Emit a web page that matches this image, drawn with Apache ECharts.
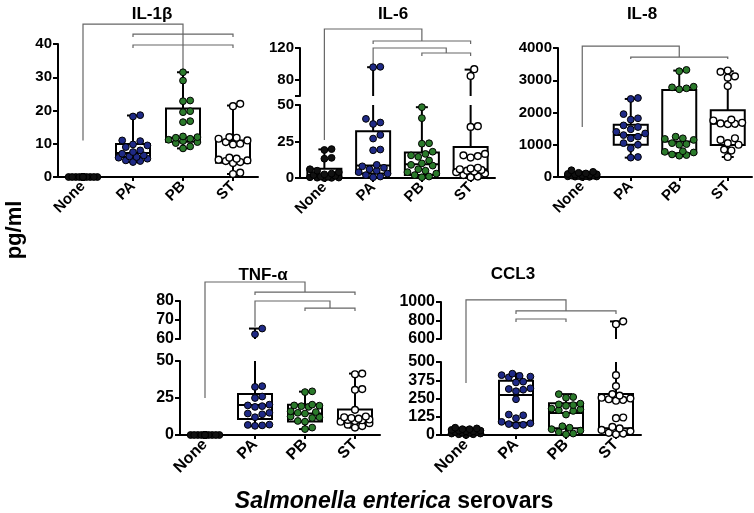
<!DOCTYPE html>
<html><head><meta charset="utf-8">
<script src="https://cdn.jsdelivr.net/npm/echarts@6/dist/echarts.min.js"></script>
<style>html,body{margin:0;padding:0;background:#fff}#c{width:754px;height:513px}</style>
</head><body><div id="c"></div>
<script>
const categories = ['None', 'PA', 'PB', 'ST'];

// ---- IL-1β ----
const il1bPoints = [
  [0,0,0,0,0,0,0,0,0,0,0,0,0,0,0,0,0,0],
  [18.6,18.2,11.0,10.8,9.8,9.5,9.0,8.0,7.5,7.0,6.5,6.2,6.0,5.8,5.5,5.0,4.8,4.5],
  [31.5,29.0,23.0,22.8,19.8,19.5,16.8,16.5,12.2,12.0,11.8,11.5,11.2,10.8,10.5,10.2,9.2,8.6],
  [22.0,21.3,12.0,11.8,11.5,11.0,10.5,10.0,9.8,5.8,5.5,5.2,5.0,4.8,4.5,4.2,1.3,0.9]
];
const il1bBox = [[0,0,0,0,0],[4.5,6.0,7.2,9.9,18.5],[8.6,10.6,11.8,20.6,31.5],[0.9,4.3,5.0,11.0,21.5]];
const il1bTicks = [0,10,20,30,40];
const il1bBrackets = [
  [[0,11,0],[0,46,0],[2,46,0],[2,32.2,0]],
  [[1,42.1,0],[1,43,0],[3,43,0],[3,42.1,0]],
  [[1,38.8,0],[1,39.7,0],[3,39.7,0],[3,38.8,0]]
];

// ---- IL-6 ----
const il6Points = [
  [19.8,19.2,13.8,13.2,6.0,5.0,4.0,3.0,2.5,2.0,1.5,1.0,0.8,0.5,0.3,0.2,0.1,0],
  [96.5,96.0,40.5,38.0,37.0,29.5,27.0,19.5,19.0,9.0,8.0,7.0,6.0,5.0,4.0,3.0,2.0,1.0,0.5],
  [48.5,41.0,23.8,23.5,18.0,16.5,15.5,14.5,12.0,10.0,9.0,8.5,6.0,5.0,4.0,3.0,2.0,1.0,0.5],
  [93.5,85.0,35.5,35.0,16.5,15.5,15.0,14.0,7.0,6.5,6.0,5.5,5.0,4.5,4.0,3.0,2.0,1.0,0.5]
];
const il6Box = [[0,0.2,1.5,6.3,19.6],[0.5,3.0,8.5,32.0,96.0],[0.5,2.0,9.5,17.5,48.5],[0.5,4.3,6.0,21.2,93.0]];
const il6LowerTicks = [0,25,50];
const il6UpperTicks = [60,80,120];
const il6UpperLabels = [80,120];
const il6Brackets = [
  [[0,26,0],[0,143.75,1],[2,143.75,1],[2,128.75,1]],
  [[1,125,1],[1,128.75,1],[3,128.75,1],[3,125,1]],
  [[1,96,1],[1,120,1],[2.5,120,1],[2.5,113.75,1]],
  [[2,110,1],[2,113.75,1],[3,113.75,1],[3,110,1]]
];

// ---- IL-8 ----
const il8Points = [
  [210,160,130,110,95,85,75,65,55,45,40,30,25,20,15,10,5,0],
  [2450,2420,1950,1820,1780,1600,1550,1480,1400,1350,1300,1250,1200,1050,1000,890,620,600],
  [3320,3280,2800,2780,2750,2720,1250,1200,1180,1150,1050,1020,1000,800,780,760,700,680,660],
  [3300,3260,3120,3080,2820,1780,1750,1680,1660,1650,1640,1200,1150,1050,1000,850,820,620]
];
const il8Box = [[0,20,50,80,160],[600,1000,1300,1620,2420],[660,740,1100,2700,3300],[620,990,1650,2070,3280]];
const il8Ticks = [0,1000,2000,3000,4000];
const il8Brackets = [
  [[0,1550,0],[0,4060,0],[2,4060,0],[2,3720,0]],
  [[1,3660,0],[1,3720,0],[3,3720,0],[3,3660,0]]
];

// ---- TNF-α ----
const tnfPoints = [
  [0,0,0,0,0,0,0,0,0,0,0,0,0,0,0,0,0,0],
  [65.5,62.5,33.0,32.5,26.0,25.0,20.5,20.0,19.5,19.0,15.0,14.5,14.0,12.0,7.0,6.8,6.5,6.2],
  [29.5,29.0,20.5,20.0,19.8,19.5,19.0,16.0,15.5,15.0,14.5,12.5,12.0,11.5,9.5,9.0,5.0,4.0],
  [41.5,41.0,31.0,30.5,17.0,12.5,12.0,11.5,11.0,10.5,10.2,10.0,9.5,9.0,8.0,7.0,6.0,5.0]
];
const tnfBox = [[0,0,0,0,0],[6.2,10.8,20.3,27.7,65.5],[4.0,9.2,14.5,20.5,29.3],[5.0,8.3,10.5,17.2,41.5]];
const tnfLowerTicks = [0,25,50];
const tnfUpperTicks = [60,70,80];
const tnfBrackets = [
  [[0,25,0],[0,90,1],[2,90,1],[2,84.7,1]],
  [[1,83.2,1],[1,84.7,1],[3,84.7,1],[3,83.2,1]],
  [[1,66.5,1],[1,80,1],[2.5,80,1],[2.5,76.3,1]],
  [[2,74.7,1],[2,76.3,1],[3,76.3,1],[3,74.7,1]]
];

// ---- CCL3 ----
const ccl3Points = [
  [50,45,40,40,35,30,30,25,25,20,20,15,15,10,10,5,5,0],
  [420,410,405,400,395,365,360,320,315,310,300,245,140,135,115,90,80,75,70,65],
  [280,260,255,215,210,205,200,180,175,170,165,140,60,50,40,30,20,10,5],
  [790,760,410,335,280,270,255,250,245,240,235,120,115,55,45,35,25,15,10,5]
];
const ccl3Box = [[0,10,22,38,50],[65,84,274,372,420],[5,46,150,217,280],[5,46,245,281,790]];
const ccl3LowerTicks = [0,125,250,375,500];
const ccl3UpperTicks = [600,800,1000];
const ccl3Brackets = [
  [[0,356,0],[0,1022,1],[2,1022,1],[2,903,1]],
  [[1,870,1],[1,903,1],[3,903,1],[3,870,1]],
  [[1,784,1],[1,816,1],[2,816,1],[2,784,1]]
];

// ---------------- layout / styling ----------------
const FONT = '"Liberation Sans", Arial, Helvetica, sans-serif';
const fills = ['#111111', '#1f2a86', '#2b7a2b', '#ffffff'];

const panels = [
  {title:'IL-1β', tx:147, ty:1, points:il1bPoints, box:il1bBox, brackets:il1bBrackets, fs:15,
   segs:[{min:0,max:40,ticks:il1bTicks,labels:il1bTicks,left:58,top:44,width:200,height:133}]},
  {title:'IL-6', tx:388, ty:1, points:il6Points, box:il6Box, brackets:il6Brackets, fs:15,
   segs:[{min:0,max:50,ticks:il6LowerTicks,labels:il6LowerTicks,left:300,top:105,width:195,height:73},
         {min:60,max:120,ticks:il6UpperTicks,labels:il6UpperLabels,left:300,top:48,width:195,height:48}]},
  {title:'IL-8', tx:637, ty:1, points:il8Points, box:il8Box, brackets:il8Brackets, fs:15,
   segs:[{min:0,max:4000,ticks:il8Ticks,labels:il8Ticks,left:558,top:48,width:194,height:129}]},
  {title:'TNF-α', tx:258, ty:262, points:tnfPoints, box:tnfBox, brackets:tnfBrackets, fs:16,
   segs:[{min:0,max:50,ticks:tnfLowerTicks,labels:tnfLowerTicks,left:180,top:361,width:200,height:74},
         {min:60,max:80,ticks:tnfUpperTicks,labels:tnfUpperTicks,left:180,top:301,width:200,height:38}]},
  {title:'CCL3', tx:508, ty:261, points:ccl3Points, box:ccl3Box, brackets:ccl3Brackets, fs:16,
   segs:[{min:0,max:500,ticks:ccl3LowerTicks,labels:ccl3LowerTicks,left:441,top:362,width:200,height:73},
         {min:600,max:1000,ticks:ccl3UpperTicks,labels:ccl3UpperTicks,left:441,top:302,width:200,height:37}]}
];

function makeRender(p, s) {
  return function (params, api) {
    const ci = api.value(0);
    const vals = p.points[ci], b = p.box[ci];
    const cx = api.coord([ci, s.min])[0];
    const Y = v => api.coord([ci, v])[1];
    const cl = v => Math.max(s.min, Math.min(s.max, v));
    const inR = v => v >= s.min && v <= s.max;
    const kids = [];
    const ls = {stroke:'#000', lineWidth:2};
    const vseg = (a, c) => {
      if (c < s.min || a > s.max || c <= a) return;
      kids.push({type:'line', shape:{x1:cx, y1:Y(cl(a)), x2:cx, y2:Y(cl(c))}, style:ls});
    };
    vseg(b[0], b[1]); vseg(b[3], b[4]);
    [b[0], b[4]].forEach(v => {
      if (inR(v) && b[4] > b[0]) kids.push({type:'line', shape:{x1:cx-6, y1:Y(v), x2:cx+6, y2:Y(v)}, style:ls});
    });
    if (b[3] >= s.min && b[1] <= s.max && b[3] > b[1]) {
      const yt = Y(cl(b[3])), yb = Y(cl(b[1]));
      kids.push({type:'rect', shape:{x:cx-17, y:yt, width:34, height:yb-yt}, style:{fill:'none', stroke:'#000', lineWidth:2}});
      if (inR(b[2])) kids.push({type:'line', shape:{x1:cx-17, y1:Y(b[2]), x2:cx+17, y2:Y(b[2])}, style:ls});
    }
    // beeswarm in pixel space
    const diam = 7.2, step = diam * 0.5, maxOff = 15;
    const placed = [];
    vals.filter(inR).slice().sort((a, c) => a - c).forEach(v => {
      const py = Y(v);
      let best = null, fb = 0, fbScore = -1;
      for (let k = 0; k * step <= maxOff && best === null; k++) {
        const offs = k === 0 ? [0] : [k * step, -k * step];
        for (const o of offs) {
          let minD = Infinity;
          for (const q of placed) { const d = Math.hypot(q[0] - o, q[1] - py); if (d < minD) minD = d; }
          if (minD >= diam * 0.95) { best = o; break; }
          if (minD > fbScore) { fbScore = minD; fb = o; }
        }
      }
      if (best === null) best = fb;
      placed.push([best, py]);
    });
    placed.forEach(q => {
      kids.push({type:'circle', shape:{cx:cx + q[0], cy:q[1], r:3.4},
        style:{fill:fills[ci], stroke:'#000', lineWidth: ci === 3 ? 1.4 : 1}});
    });
    return {type:'group', children:kids};
  };
}

const grids = [], xAxes = [], yAxes = [], series = [], titles = [];
panels.forEach(p => {
  titles.push({text:p.title, left:p.tx, top:p.ty, textAlign:'center',
    textStyle:{fontFamily:FONT, fontWeight:'bold', fontSize:17, color:'#000'}});
  p.axisIdx = [];
  p.segs.forEach((s, si) => {
    const gi = grids.length;
    p.axisIdx.push(gi);
    grids.push({left:s.left, top:s.top, width:s.width, height:s.height});
    xAxes.push({type:'category', gridIndex:gi, data:categories, show: si === 0, boundaryGap:true,
      axisLine:{show:true, onZero:false, lineStyle:{color:'#000', width:2}},
      axisTick:{show:true, alignWithLabel:true, length:4, lineStyle:{color:'#000', width:2}},
      axisLabel:{interval:0, rotate:45, margin:7, color:'#000', fontFamily:FONT, fontWeight:'bold', fontSize:p.fs}});
    yAxes.push({type:'value', gridIndex:gi, min:s.min, max:s.max,
      axisLine:{show:true, lineStyle:{color:'#000', width:2}},
      axisTick:{show:true, length:5, customValues:s.ticks, lineStyle:{color:'#000', width:2}},
      axisLabel:{customValues:s.labels, margin:6, showMinLabel:true, showMaxLabel:true,
        formatter: v => String(v),
        color:'#000', fontFamily:FONT, fontWeight:'bold', fontSize:p.fs},
      splitLine:{show:false}});
    series.push({type:'custom', xAxisIndex:gi, yAxisIndex:gi, clip:false, silent:true, z:5,
      data:categories.map((c, i) => [i, s.min]), encode:{x:0, y:1}, renderItem:makeRender(p, s)});
  });
});

const chart = echarts.init(document.getElementById('c'), null, {renderer:'canvas'});
chart.setOption({animation:false, backgroundColor:'#fff', title:titles, grid:grids, xAxis:xAxes, yAxis:yAxes, series:series});

function toPx(p, cat, v, seg) {
  const gi = p.axisIdx[seg];
  const c0 = Math.floor(cat), f = cat - c0;
  const a = chart.convertToPixel({gridIndex:gi}, [c0, v]);
  if (f > 0) {
    const b = chart.convertToPixel({gridIndex:gi}, [c0 + 1, v]);
    a[0] = a[0] + f * (b[0] - a[0]);
  }
  return a;
}

const graphics = [];
panels.forEach(p => {
  p.brackets.forEach(br => {
    graphics.push({type:'polyline', silent:true, z:1,
      shape:{points: br.map(pt => toPx(p, pt[0], pt[1], pt[2]))},
      style:{stroke:'#666', lineWidth:1.2, fill:null}});
  });
});
graphics.push({type:'text', x:15, y:230, rotation:Math.PI / 2, silent:true,
  style:{text:'pg/ml', fill:'#000', font:'bold 22px ' + FONT, align:'center', verticalAlign:'middle'}});
graphics.push({type:'text', x:394, y:502, silent:true,
  style:{text:'{i|Salmonella enterica }{b|serovars}', align:'center', verticalAlign:'middle',
    rich:{i:{fontFamily:FONT, fontStyle:'italic', fontWeight:'bold', fontSize:23, fill:'#000'},
          b:{fontFamily:FONT, fontWeight:'bold', fontSize:23, fill:'#000'}}}});
chart.setOption({graphic:graphics});
</script>
</body></html>
